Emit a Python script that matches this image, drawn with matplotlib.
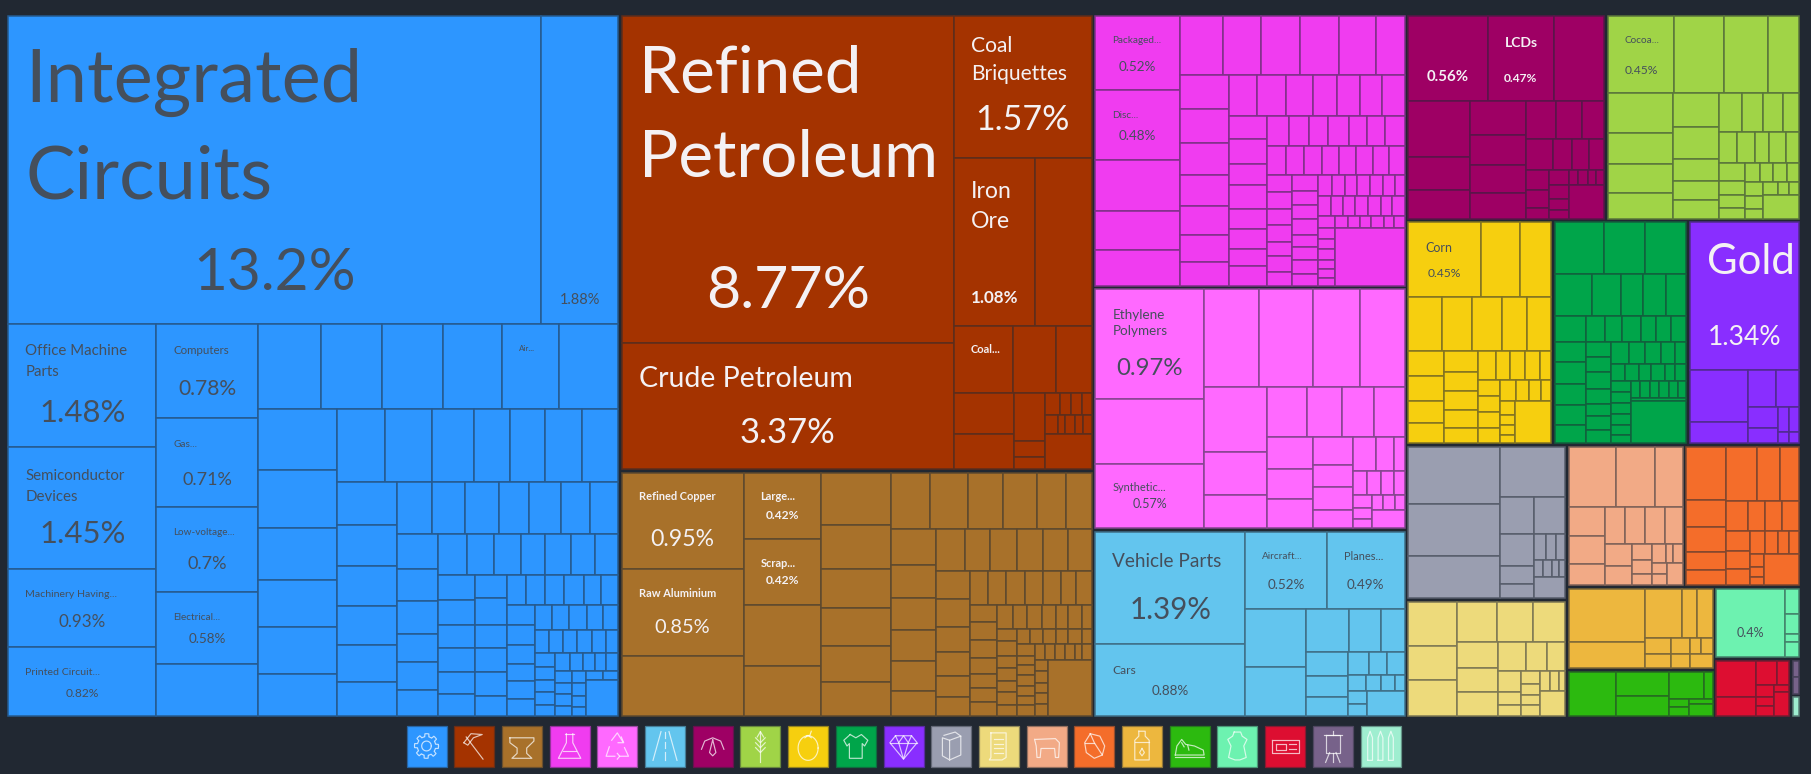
import numpy as np
import matplotlib
matplotlib.use("Agg")
import matplotlib.pyplot as plt
from matplotlib.patches import Rectangle
from matplotlib.colors import to_rgb

plt.rcParams['font.family'] = ['Lato', 'Noto Sans', 'DejaVu Sans']

BG = '#212832'
SECTOR_COLORS = ['#2D96FF', '#A43300', '#A8712A', '#F03CF0', '#FF69FF', '#63C5EE', '#9E0064',
                 '#A0D447', '#F6CF0F', '#00A54A', '#892EFF', '#9A9EB0', '#EDDA7B', '#F2AA86',
                 '#F46D2A', '#EDB73E', '#2CBA0F', '#6DF2B0', '#DD0E31', '#77628A', '#9FEED0']

# Weight trees: [share in parent, child, child, ...]; a bare number is a leaf's share.
SECTOR_SHARES = [0, 613.5, [473.5, 456.5, 246.5], [313, 273, 242.5, 187.5],
    [394.5, [206, 199.5, 195], [224.5, 146.5, 135, 113],
     [272.5, [160.5, 155, 117.5],
      [234, [142, 117.5, 116.5],
       [130.5, [147.5, 83, 47.5], [86.5, 72, [58.5, 76.5, [10, 36.5, 22]]]]]]]]

machinery_blue = [0, [307, 534, 77],
  [391, [148, 123, 121, 78, 68], [102, 94, 88, 85, 71, 52],
   [360, [255, 189, 181, 182, 178, 170, 177],
    [915, [237, 180, 175, 155, 140, 140, 125],
     [840, [217, 143, 139, 125, 108, 105, 112, 108],
      [698, [177, 128, 123, 120, 115, 110, 102],
       [663, [155, 105, 101, 100, 90, 96, 86, 85],
        [543, [125, 105, 96, 97, 85, 82, 78],
         [538, [123, 85, 81, 82, 71, 78, 71, 70],
          [420, [110, 73, 75, 69, 73, 65, 65], [95, 67, 81, 69, 73, 70, 60],
           [333, [90, 56, 58, 57, 59, 51, 52],
            [330, [83, 60, 58, 57, 52, 53, 50],
             [250, [75, 52, 51, 54, 48, 45], [68, 42, 43, 42, 43, 42, 38],
              [187, [60, 42, 37, 38, 37, 33],
               [190, [54, 45, 40, 35, 32, 38],
                [133, [53, 36, 32, 35, 30], [42, 36, 37, 35, 25],
                 [95, [25, 50, 45], 108]]]]]]]]]]]]]]]]]
minerals = [0, [332, 327, 127],
  [138, 141, [168, 69, 48], [67, 175, 128, 107],
   [76, [180, 123, 105], [92, 143, 47, 38],
    [138, [65, 43, 32, 33, 30], [58, 38, 20, 30, 25, 25], 105]]]]
metals = [0, [365, 288, 260, 180], [233, 198, 197, 185, 148], [209, 156, 132, 117, 113, 110, 100],
  [601, [170, 116, 115, 104, 101, 87, 78],
   [558, [135, 105, 100, 95, 95, 88, 75],
    [466, [123, 86, 75, 80, 79, 75, 71],
     [435, [100, 85, 84, 76, 72, 62, 56],
      [366, [102, 56, 53, 57, 54, 53, 47, 46],
       [333, [83, 53, 54, 53, 48, 42, 42, 41],
        [283, [72, 47, 43, 43, 42, 38, 40, 30],
         [261, [60, 38, 45, 35, 38, 35, 39, 31],
          [223, [45, 38, 39, 38, 38, 40, 30],
           [216, [53, 35, 25, 30, 30, 30, 26, 30],
            [170, [50, 29, 31, 30, 29, 23, 28],
             [166, [40, 32, 32, 30, 32, 33], 130]]]]]]]]]]]]]
chemicals = [0, [255, 220, 212, 153, 117, 106],
  [675, [177, 128, 115, 117, 118, 110, 87],
   [631, [148, 101, 102, 95, 95, 85, 83, 70],
    [527, [121, 82, 87, 81, 72, 72, 66, 67],
     [510, [112, 70, 74, 65, 70, 61, 60, 52, 58],
      [415, [92, 67, 60, 58, 63, 54, 55, 58], [86, 57, 56, 52, 53, 52, 50, 47, 48],
       [332, [75, 51, 50, 48, 52, 43, 48, 40], [78, 47, 42, 43, 49, 36, 39, 40, 36],
        [262, [64, 42, 40, 38, 37, 40, 35, 30], [60, 39, 36, 39, 38, 40, 33, 37],
         [35, 52, 40, 37, 33, 38, 30, 32],
         [173, [52, 32, 30, 33, 27, 28, 23], 210]]]]]]]]]
plastics = [0, [328, 328, 192, 193],
  [602, [293, 165, 160, 142, 135],
   [420, [187, 192, 130, 98],
    [415, [149, 122, 105, 96, 92],
     [271, [138, 95, 88, 88], [122, 83, 65, 68, 55],
      [155, [100, 70, 52, 33], [73, 43, 40, 39, 33],
       [98, [58, 38, 32, 28], [97, [43, 32, 37, 28], 55]]]]]]]]
transport = [0, [451, 336, 214],
  [479, [231, 244, 235],
   [319, [181, 172, 147],
    [298, [129, 130, 96, 72],
     [190, [126, 70, 65, 55],
      [172, [68, 65, 54, 53], [48, 57, 45, 42, 28],
       [74, [59, 39, 35], 113]]]]]]]
electronics = [0, [253, 238, 200, 150],
  [352, [185, 169, 98, 85], [167, 102, 88, 85, 77],
   [236, [115, 91, 77, 68], [92, 81, 59, 51, 45],
    [145, [71, 58, 54, 33],
     [165, [45, 59, 26, 30, 24, 26], [100, [59, 40, 35, 25], 106]]]]]]
vegetables = [0, [230, 198, 148, 130, 94],
  [375, [193, 118, 94, 86, 77], [138, 102, 95, 65, 58, 55],
   [239, [115, 69, 63, 60, 47], [92, 54, 53, 43, 49, 40],
    [168, [77, 55, 43, 37, 33],
     [162, [58, 45, 38, 42, 37],
      [110, [55, 42, 40, 28], [107, [40, 43, 34, 30], 70]]]]]]]
foodstuffs = [0, [222, 218, 117, 92], [163, 100, 90, 90, 75, 72],
  [275, [108, 75, 75, 65, 60], [100, 62, 58, 57, 53, 45],
   [219, [85, 54, 43, 45, 43, 34],
    [190, [67, 48, 49, 48, 45],
     [152, [63, 48, 39, 33, 32], [127, [43, 42, 30, 30, 25], 109]]]]]]
textiles = [0, [155, 147, 125, 123], [125, 113, 87, 65, 70, 60], [78, 93, 57, 53, 57, 43, 47, 45],
  [302, [93, 60, 64, 63, 60, 55], [77, 45, 45, 49, 46, 37, 40, 40],
   [225, [65, 53, 47, 50, 40, 35], [52, 42, 41, 37, 40, 30, 35],
    [185, [58, 33, 32, 32, 33, 30, 25],
     [167, [50, 29, 30, 26, 30, 27, 25], 10, 125]]]]]
precious = [0, 440, [220, [173, 157, 63],
  [154, [113, 85, 69], [107, [90, 62, 45], [64, [72, 32, 32], [35, 32, 32]]]]]]
stone_grey = [0, [275, 169, 155, 126],
  [195, 150, [300, [100, 110, 95, 54, 41],
   [95, 110, [77, 38, 30, 27], [50, 28, 27, 22, 18], 63]]]]
paper = [0, [147, 131, 104, 106],
  [323, [121, 120, 105, 98],
   [220, [123, 77, 72, 71],
    [200, [87, 83, 62, 55],
     [133, [67, 62, 38, 33], [58, 38, 32, 32, 31], [75, [60, 28, 27, 20], 73]]]]]]
animal = [0, [180, 143, 118, 82],
  [232, [108, 85, 85, 62],
   [235, [110, 62, 60, 61, 52],
    [122, [82, 65, 57], [61, 47, 43, 32],
     [92, [57, 42, 22, 28], [65, [45, 33, 32], 47]]]]]]
stone_orange = [0, [120, 159, 80, 75, 53, 45],
  [217, [160, 90, 70, 57], [92, 63, 52, 52, 50],
   [160, [70, 57, 56, 47],
    [147, [67, 45, 40, 32, 30], [93, [42, 38, 30, 25], 105]]]]]
rubber = [0, [230, 158, 80],
  [205, [148, 113, 43, 49],
   [90, [78, 48, 42], [58, 48, 42], [69, [48, 34, 35], 42]]]]
footwear = [0, 143, [160, 73, 58],
  [132, [80, 107, 25], [51, [60, 26, 25], [72, 16, 35]]]]
hides = [0, 205, [42, 75, 58, 25, 45]]
instruments = [0, [120, 110, 56],
  [98, [73, 62, 36], [93, [52, 37, 26, 30], [46, 20, 73]]]]
art = [0, 50, 50]
arms = [0, 1]

SECTOR_TREES = [machinery_blue, minerals, metals, chemicals, plastics, transport, electronics,
                vegetables, foodstuffs, textiles, precious, stone_grey, paper, animal,
                stone_orange, rubber, footwear, hides, instruments, art, arms]
# first split of each sector: 'h' side by side, 'v' stacked
FIRST_SPLIT = ['v', 'h', 'h', 'h', 'h', 'h', 'v', 'v', 'v', 'v', 'v', 'h', 'h', 'v', 'h', 'h', 'h',
               'h', 'h', 'v', 'v']

# sector, leaf index, name lines, share label
LABELS = [
 (0, 0, ['Integrated', 'Circuits'], '13.2%'), (0, 1, [], '1.88%'),
 (0, 2, ['Office Machine', 'Parts'], '1.48%'), (0, 3, ['Semiconductor', 'Devices'], '1.45%'),
 (0, 4, ['Machinery Having...'], '0.93%'), (0, 5, ['Printed Circuit...'], '0.82%'),
 (0, 6, ['Computers'], '0.78%'), (0, 7, ['Gas...'], '0.71%'),
 (0, 8, ['Low-voltage...'], '0.7%'), (0, 9, ['Electrical...'], '0.58%'), (0, 15, ['Air...'], ''),
 (1, 0, ['Refined', 'Petroleum'], '8.77%'), (1, 1, ['Crude Petroleum'], '3.37%'),
 (1, 2, ['Coal', 'Briquettes'], '1.57%'), (1, 3, ['Iron', 'Ore'], '1.08%'), (1, 5, ['Coal...'], ''),
 (2, 0, ['Refined Copper'], '0.95%'), (2, 1, ['Raw Aluminium'], '0.85%'),
 (2, 3, ['Large...'], '0.42%'), (2, 4, ['Scrap...'], '0.42%'),
 (3, 0, ['Packaged...'], '0.52%'), (3, 1, ['Disc...'], '0.48%'),
 (4, 0, ['Ethylene', 'Polymers'], '0.97%'), (4, 2, ['Synthetic...'], '0.57%'),
 (5, 0, ['Vehicle Parts'], '1.39%'), (5, 1, ['Cars'], '0.88%'),
 (5, 2, ['Aircraft...'], '0.52%'), (5, 3, ['Planes...'], '0.49%'),
 (6, 0, [], '0.56%'), (6, 1, ['LCDs'], '0.47%'),
 (7, 0, ['Cocoa...'], '0.45%'), (8, 0, ['Corn'], '0.45%'),
 (10, 0, ['Gold'], '1.34%'), (17, 0, [], '0.4%'),
]
# name offset below leaf top, line pitch, name px size, share offset, share px size, weight
PLACEMENT = [
 (59, 96, 74, 252, 58.5, 'normal'), (0, 0, 0, 282, 14.5, 'normal'),
 (26, 21, 15, 87, 31, 'normal'), (27, 21, 15, 84, 31, 'normal'),
 (24, 0, 10.5, 51, 17, 'normal'), (24, 0, 10.5, 45, 12, 'normal'),
 (26, 0, 11.5, 63, 21, 'normal'), (25, 0, 10, 60, 18, 'normal'),
 (25, 0, 10, 56, 18, 'normal'), (24, 0, 10, 46, 13.5, 'normal'), (24, 0, 8, 0, 0, 'normal'),
 (53, 83, 65.5, 270, 59, 'normal'), (34, 0, 28.5, 87, 34.5, 'normal'),
 (28, 28, 21, 101, 34, 'normal'), (32, 30, 23, 139, 17, 'bold'), (23, 0, 11, 0, 0, 'bold'),
 (23, 0, 11, 65, 23, 'bold'), (24, 0, 11, 57, 20, 'bold'),
 (23, 0, 11, 42, 12, 'bold'), (24, 0, 11, 41, 12, 'bold'),
 (23, 0, 10, 50, 13.5, 'normal'), (25, 0, 10, 45, 13.5, 'normal'),
 (25, 16, 13.5, 77, 24, 'normal'), (23, 0, 11, 39, 12.5, 'normal'),
 (28, 0, 19, 76, 29.5, 'normal'), (25, 0, 12, 46, 13.5, 'normal'),
 (24, 0, 10, 52, 13.5, 'normal'), (24, 0, 11, 52, 13.5, 'normal'),
 (0, 0, 0, 59, 15, 'bold'), (26, 0, 14, 61, 12, 'bold'),
 (23, 0, 10, 53, 12, 'normal'), (25, 0, 12.5, 50, 12, 'normal'),
 (36, 0, 42, 113, 26.5, 'normal'), (0, 0, 0, 43, 12.5, 'normal'),
]
LIGHT_TEXT_SECTORS = {1, 2, 6, 10}
NAME_DX = 17

th = np.linspace(0, 2*np.pi, 49)
def ring(cx, cy, rx, ry=None):
    ry = rx if ry is None else ry
    return list(zip(cx + rx*np.cos(th), cy + ry*np.sin(th)))
gear = [(.5 + (.3 if np.cos(8*a) > 0 else .23)*np.cos(a), .5 + (.3 if np.cos(8*a) > 0 else .23)*np.sin(a))
        for a in np.linspace(0, 2*np.pi, 97)]
ICONS = [
 [gear, ring(.5, .5, .12)],
 [[(.3, .28), (.72, .82)], [(.24, .42), (.42, .2), (.7, .22), (.48, .3), (.34, .48), (.24, .42)]],
 [[(.2, .3), (.8, .3), (.8, .38), (.62, .55), (.62, .68), (.75, .8), (.25, .8), (.38, .68), (.38, .55), (.2, .42), (.2, .3)]],
 [[(.42, .2), (.42, .42), (.22, .8), (.78, .8), (.58, .42), (.58, .2)], [(.38, .2), (.62, .2)], [(.33, .62), (.67, .62)]],
 [[(.36, .36), (.5, .18), (.64, .4)], [(.68, .54), (.78, .75), (.56, .75)], [(.44, .75), (.22, .75), (.3, .52)], [(.6, .28), (.66, .42), (.52, .42)], [(.5, .68), (.56, .75), (.5, .82)]],
 [[(.4, .15), (.2, .85)], [(.6, .15), (.8, .85)], [(.5, .15), (.5, .3)], [(.5, .4), (.5, .55)], [(.5, .65), (.5, .85)]],
 [[(.22, .58), (.3, .38), (.5, .3), (.7, .38), (.78, .58)], [(.5, .35), (.42, .66), (.5, .74), (.58, .66), (.5, .35)]],
 [[(.5, .15), (.5, .9)], [(.38, .3), (.5, .42), (.62, .3)], [(.38, .42), (.5, .54), (.62, .42)], [(.38, .54), (.5, .66), (.62, .54)], [(.5, .15), (.42, .28)], [(.5, .15), (.58, .28)]],
 [ring(.5, .55, .25, .3), [(.46, .25), (.54, .25), (.58, .14)], [(.42, .3), (.5, .24), (.58, .3)]],
 [[(.36, .22), (.2, .36), (.28, .5), (.34, .44), (.34, .8), (.66, .8), (.66, .44), (.72, .5), (.8, .36), (.64, .22), (.5, .3), (.36, .22)]],
 [[(.3, .25), (.7, .25), (.84, .42), (.5, .82), (.16, .42), (.3, .25)], [(.16, .42), (.84, .42)], [(.38, .42), (.5, .82), (.62, .42)], [(.3, .25), (.38, .42), (.5, .25), (.62, .42), (.7, .25)]],
 [[(.32, .24), (.6, .16), (.74, .26), (.74, .72), (.46, .84), (.28, .74), (.28, .3), (.46, .36), (.46, .84)], [(.46, .36), (.74, .26)]],
 [[(.3, .18), (.68, .18), (.68, .78), (.58, .84), (.26, .84), (.3, .78), (.3, .18)], [(.38, .32), (.6, .32)], [(.38, .44), (.6, .44)], [(.38, .56), (.6, .56)], [(.38, .68), (.6, .68)]],
 [[(.2, .34), (.72, .32), (.82, .42), (.8, .78), (.72, .78), (.7, .56), (.36, .56), (.34, .78), (.26, .78), (.24, .5), (.2, .34)]],
 [[(.4, .2), (.64, .26), (.76, .5), (.7, .72), (.5, .8), (.3, .66), (.26, .42), (.4, .2)], [(.4, .2), (.5, .42), (.7, .72)], [(.26, .42), (.5, .42)]],
 [[(.42, .14), (.58, .14), (.58, .26), (.68, .36), (.68, .84), (.32, .84), (.32, .36), (.42, .26), (.42, .14)], [(.32, .4), (.68, .4)], [(.5, .56), (.44, .66), (.5, .74), (.56, .66), (.5, .56)]],
 [[(.14, .72), (.18, .5), (.3, .34), (.4, .46), (.62, .5), (.84, .6), (.86, .72), (.14, .72)], [(.14, .78), (.86, .78)], [(.3, .42), (.36, .52)], [(.45, .48), (.48, .6)]],
 [[(.42, .16), (.58, .16), (.62, .26), (.74, .34), (.66, .5), (.72, .78), (.56, .84), (.44, .84), (.28, .78), (.34, .5), (.26, .34), (.38, .26), (.42, .16)]],
 [[(.16, .36), (.84, .36), (.84, .68), (.16, .68), (.16, .36)], [(.26, .44), (.52, .44), (.52, .6), (.26, .6), (.26, .44)], [(.6, .46), (.76, .46)], [(.6, .58), (.76, .58)]],
 [[(.32, .22), (.68, .22), (.68, .66), (.32, .66), (.32, .22)], [(.28, .22), (.72, .22)], [(.42, .66), (.32, .9)], [(.58, .66), (.68, .9)], [(.5, .14), (.5, .22)], [(.5, .66), (.5, .88)]],
 [[(.18, .85), (.18, .3), (.24, .14), (.3, .3), (.3, .85), (.18, .85)], [(.44, .85), (.44, .3), (.5, .14), (.56, .3), (.56, .85), (.44, .85)], [(.7, .85), (.7, .3), (.76, .14), (.82, .3), (.82, .85), (.7, .85)]],
]


def mix(c, other, t):
    a, b = np.array(to_rgb(c)), np.array(to_rgb(other))
    return tuple(a*(1-t) + b*t)


def layout(node, x, y, w, h, direction, out):
    """Split (x, y, w, h) among a node's children in proportion to their shares."""
    children = node[1:]
    shares = np.array([c[0] if isinstance(c, list) else c for c in children], float)
    fractions = shares / shares.sum()
    next_dir = 'v' if direction == 'h' else 'h'
    pos = 0.0
    for child, f in zip(children, fractions):
        if direction == 'h':
            box = (x + pos*w, y, f*w, h)
        else:
            box = (x, y + pos*h, w, f*h)
        pos += f
        if isinstance(child, list):
            layout(child, *box, next_dir, out)
        else:
            out.append(box)
    return out


fig = plt.figure(figsize=(18.11, 7.74), dpi=100, facecolor=BG)
ax = fig.add_axes([0, 0, 1, 1])
ax.set_xlim(0, 1811)
ax.set_ylim(774, 0)
ax.axis('off')

# Plot region and gaps
sectors = layout(SECTOR_SHARES, 6.5, 14.5, 1794.5, 703, 'h', [])
GAP = 1.75
all_leaves = []
for (sx, sy, sw, sh), tree, first, color in zip(sectors, SECTOR_TREES, FIRST_SPLIT, SECTOR_COLORS):
    leaves = layout(tree, sx + GAP, sy + GAP, sw - 2*GAP, sh - 2*GAP, first, [])
    all_leaves.append(leaves)
    edge = mix(color, BG, 0.55)
    for (lx, ly, lw, lh) in leaves:
        ax.add_patch(Rectangle((lx, ly), lw, lh, facecolor=color, edgecolor=edge, linewidth=1.1))

PX = 0.72
for (sec, leaf, names, share), (ny, pitch, nsize, py, psize, weight) in zip(LABELS, PLACEMENT):
    lx, ly, lw, lh = all_leaves[sec][leaf]
    col = '#F4F1F4' if sec in LIGHT_TEXT_SECTORS else '#454F5C'
    for i, line in enumerate(names):
        ax.text(lx + NAME_DX, ly + ny + i*pitch, line, ha='left', va='center_baseline',
                fontsize=nsize*PX, color=col, fontweight=weight if nsize < 15 else 'normal')
    if share:
        ax.text(lx + lw/2, ly + py, share, ha='center', va='center_baseline',
                fontsize=psize*PX, color=col, fontweight=weight if psize < 20 else 'normal')

# Legend tiles
TILE_X0, TILE_STEP, TILE_W, TILE_Y, TILE_H = 406.5, 47.7, 40, 725.5, 41
for i, (color, glyph) in enumerate(zip(SECTOR_COLORS, ICONS)):
    x0 = TILE_X0 + i*TILE_STEP
    ax.add_patch(Rectangle((x0, TILE_Y), TILE_W, TILE_H, facecolor=color,
                           edgecolor=mix(color, BG, 0.45), linewidth=0.9))
    for poly in glyph:
        p = np.array(poly, float)
        ax.plot(x0 + p[:, 0]*TILE_W, TILE_Y + p[:, 1]*TILE_H, color='white', alpha=0.72, lw=0.85)

fig.savefig('out.png', dpi=100, facecolor=BG)
